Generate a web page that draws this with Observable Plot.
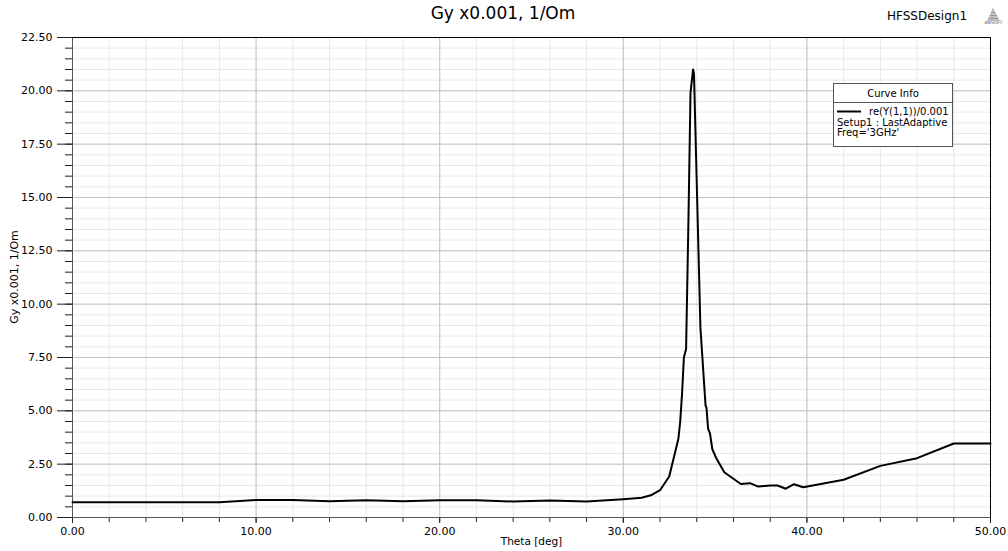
<!DOCTYPE html>
<html><head><meta charset="utf-8">
<script src="https://cdn.jsdelivr.net/npm/d3@7"></script>
<script src="https://cdn.jsdelivr.net/npm/@observablehq/plot@0.6"></script>
<style>
html,body{margin:0;padding:0;background:#fff;}
#chart svg{display:block;}
</style></head><body><div id="chart"></div>
<script>
// ---- data ----
const theta = [0, 2, 4, 6, 8, 10, 12, 14, 16, 18, 20, 22, 24, 26, 28, 30, 31, 31.5, 32, 32.5, 32.75, 33, 33.1, 33.2, 33.3, 33.42, 33.55, 33.66, 33.8, 33.85, 34.2, 34.48, 34.53, 34.62, 34.72, 34.85, 35.05, 35.5, 36.4, 36.9, 37.35, 38.0, 38.4, 38.85, 39.3, 39.8, 42, 44, 46, 48, 50];
const gy =    [0.72, 0.72, 0.72, 0.72, 0.72, 0.82, 0.82, 0.76, 0.81, 0.76, 0.81, 0.81, 0.75, 0.80, 0.75, 0.86, 0.93, 1.04, 1.28, 1.92, 2.80, 3.69, 4.5, 5.8, 7.5, 7.9, 14.0, 19.9, 21.0, 20.8, 8.9, 5.25, 5.15, 4.15, 3.95, 3.2, 2.8, 2.12, 1.57, 1.61, 1.45, 1.5, 1.5, 1.35, 1.56, 1.42, 1.77, 2.42, 2.78, 3.47, 3.47];

const xMajorTicks = [0, 10, 20, 30, 40, 50];
const xMinorTicks = [0, 2, 4, 6, 8, 10, 12, 14, 16, 18, 20, 22, 24, 26, 28, 30, 32, 34, 36, 38, 40, 42, 44, 46, 48, 50];
const yMajorTicks = [0, 2.5, 5, 7.5, 10, 12.5, 15, 17.5, 20, 22.5];
const yMinorTicks = [0, 0.5, 1, 1.5, 2, 2.5, 3, 3.5, 4, 4.5, 5, 5.5, 6, 6.5, 7, 7.5, 8, 8.5, 9, 9.5, 10, 10.5, 11, 11.5, 12, 12.5, 13, 13.5, 14, 14.5, 15, 15.5, 16, 16.5, 17, 17.5, 18, 18.5, 19, 19.5, 20, 20.5, 21, 21.5, 22, 22.5];

const titleText = "Gy x0.001, 1/Om";
const xLabel = "Theta [deg]";
const yLabel = "Gy x0.001, 1/Om";
const designName = "HFSSDesign1";
const legendTitle = "Curve Info";
const legendSeries = "re(Y(1,1))/0.001";
const legendInfo = ["Setup1 : LastAdaptive", "Freq='3GHz'"];

const data = theta.map((t, i) => ({theta: t, gy: gy[i]}));
const font = "'DejaVu Sans', sans-serif";

const chart = Plot.plot({
  width: 1008, height: 551,
  marginLeft: 72, marginRight: 18, marginTop: 37, marginBottom: 34,
  style: {fontFamily: font, fontSize: "11px", color: "#000", background: "#fff", overflow: "visible"},
  x: {domain: [0, 50], label: null},
  y: {domain: [0, 22.5], label: null},
  marks: [
    Plot.gridX(xMinorTicks, {stroke: "#e8e8e8", strokeOpacity: 1}),
    Plot.gridY(yMinorTicks, {stroke: "#e8e8e8", strokeOpacity: 1}),
    Plot.gridX(xMajorTicks, {stroke: "#c4c4c4", strokeOpacity: 1}),
    Plot.gridY(yMajorTicks, {stroke: "#c4c4c4", strokeOpacity: 1}),
    Plot.axisY(yMinorTicks, {tickSize: 7, tickFormat: () => "", stroke: "#222", label: null}),
    Plot.axisY(yMajorTicks, {tickSize: 15, tickPadding: 5, tickFormat: d => d.toFixed(2), stroke: "#222", fill: "#000", fontSize: 11, label: null}),
    Plot.axisX(xMinorTicks, {tickSize: 5, tickFormat: () => "", stroke: "#222", label: null}),
    Plot.axisX(xMajorTicks, {tickSize: 6, tickPadding: 4, tickFormat: d => d.toFixed(2), stroke: "#222", fill: "#000", fontSize: 11, label: null}),
    Plot.ruleX([0], {stroke: "#555"}),
    Plot.ruleY([0], {stroke: "#555"}),
    Plot.ruleX([50], {stroke: "#000"}),
    Plot.ruleY([22.5], {stroke: "#000"}),
    Plot.line(data, {x: "theta", y: "gy", stroke: "#000", strokeWidth: 2}),
    Plot.text([xLabel], {frameAnchor: "bottom", dy: 27, fontSize: 10.5, fill: "#000"})
  ]
});
document.getElementById("chart").appendChild(chart);

// ---- annotations: y label, title, design name, logo, legend ----
const svg = d3.select(chart);
const ann = svg.append("g").attr("font-family", font).attr("fill", "#000").attr("text-anchor", "start");
ann.append("text").attr("transform", "translate(18,277) rotate(-90)").attr("text-anchor", "middle").attr("font-size", 11).text(yLabel);
ann.append("text").attr("x", 503).attr("y", 19).attr("text-anchor", "middle").attr("font-size", 17).text(titleText);
ann.append("text").attr("x", 887).attr("y", 20).attr("font-size", 12).text(designName);

const logo = ann.append("g");
logo.append("polygon").attr("points", "993,8 987,21 1000,21").attr("fill", "#9a9a9a");
[11, 14, 17, 20].forEach(yy => logo.append("line").attr("x1", 986).attr("x2", 1001).attr("y1", yy).attr("y2", yy).attr("stroke", "#fff").attr("stroke-width", 0.8));
logo.append("text").attr("x", 993.5).attr("y", 24).attr("text-anchor", "middle").attr("font-size", 4.5).attr("fill", "#555").text("ANSOFT");

const lg = ann.append("g");
lg.append("rect").attr("x", 833.5).attr("y", 83.5).attr("width", 119).attr("height", 63).attr("fill", "#fff").attr("stroke", "#555");
lg.append("line").attr("x1", 833.5).attr("x2", 952.5).attr("y1", 102.5).attr("y2", 102.5).attr("stroke", "#555");
lg.append("text").attr("x", 893).attr("y", 97).attr("text-anchor", "middle").attr("font-size", 10).text(legendTitle);
lg.append("line").attr("x1", 837).attr("x2", 861).attr("y1", 111.5).attr("y2", 111.5).attr("stroke", "#000").attr("stroke-width", 2);
lg.append("text").attr("x", 869).attr("y", 115).attr("font-size", 10).text(legendSeries);
legendInfo.forEach((s, i) => lg.append("text").attr("x", 837).attr("y", 126 + i * 10).attr("font-size", 10).text(s));
</script>
</body></html>
